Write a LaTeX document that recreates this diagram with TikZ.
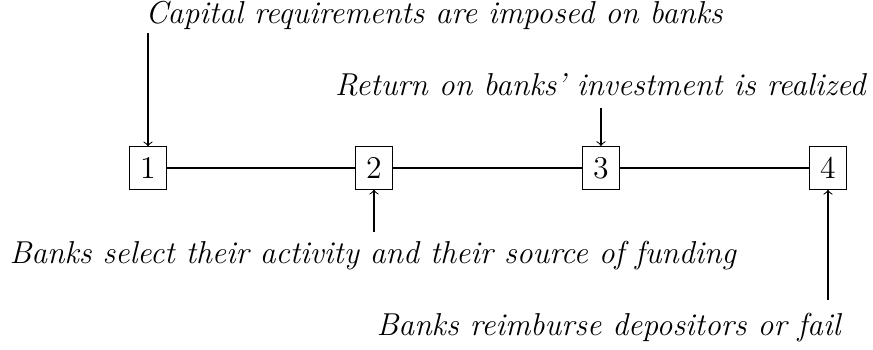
\documentclass[tikz,border=0pt]{standalone}
\begin{document}
\begin{tikzpicture}[x=0.3788pt,y=-0.3788pt,
  stage/.style={draw,inner sep=4pt,font=\large},
  lbl/.style={font=\large\itshape,inner sep=0pt},
  ev/.style={->}]
\useasboundingbox (0,0) rectangle (873,349);
\node[stage] (b1) at (148,168) {1};
\node[stage] (b2) at (374,168) {2};
\node[stage] (b3) at (601,168) {3};
\node[stage] (b4) at (828,168) {4};
\draw (b1) -- (b2) -- (b3) -- (b4);
\node[lbl,anchor=base west] (t1) at (145,23) {Capital requirements are imposed on banks};
\node[lbl,anchor=base east] (t3) at (866,95) {Return on banks' investment is realized};
\node[lbl,anchor=base west] (t2) at (9,263) {Banks select their activity and their source of funding};
\node[lbl,anchor=base east] (t4) at (841,335) {Banks reimburse depositors or fail};
\coordinate (c1) at (148,33);
\coordinate (c3) at (601,108);
\coordinate (c2) at (374,232);
\coordinate (c4) at (828,300);
\draw[ev] (c1) -- (b1.north);
\draw[ev] (c3) -- (b3.north);
\draw[ev] (c2) -- (b2.south);
\draw[ev] (c4) -- (b4.south);
\end{tikzpicture}
\end{document}
